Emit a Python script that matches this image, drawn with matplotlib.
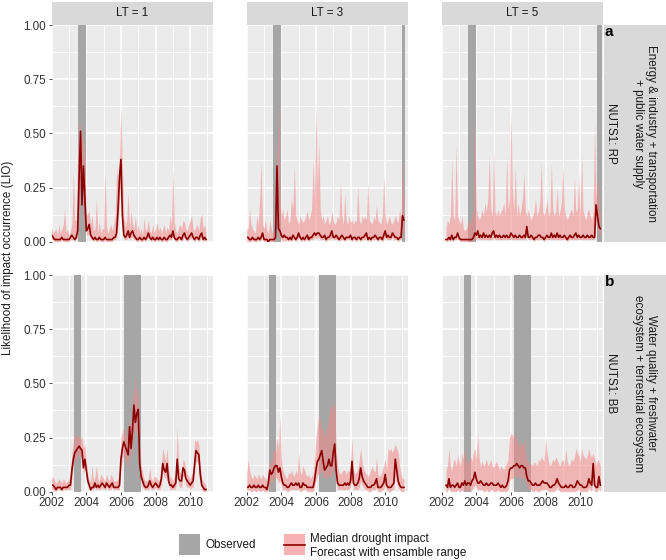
import numpy as np
import matplotlib
matplotlib.use("Agg")
import matplotlib.pyplot as plt
from matplotlib.patches import Rectangle

plt.rcParams['font.family'] = ['Liberation Sans', 'DejaVu Sans']

# ---------------- data (values in percent LIO, monthly) ----------------
lead_times = ["LT = 1", "LT = 3", "LT = 5"]
row_regions = ["NUTS1: RP", "NUTS1: BB"]
row_sectors = ["Energy & industry + transportation\n+ public water supply",
               "Water quality + freshwater\necosystem + terrestrial ecosystem"]
row_letters = ["a", "b"]
year_ticks = [2002, 2004, 2006, 2008, 2010]
lio_ticks = [0.0, 0.25, 0.5, 0.75, 1.0]

# observed drought impact periods (decimal years) per row
obs_RP = [(2003.50, 2003.96), (2011.00, 2011.40)]
obs_BB = [(2003.30, 2003.67), (2006.17, 2007.16)]

# start month (months after Jan 2002) of each forecast series
start_LT1 = 0
start_LT3 = 0
start_LT5 = 3

# ---- Row a: NUTS1 RP ----
med_RP_LT1 = [3,2,1,1,1,1,1,2,1,1, 1,1,1,2,3,2,1, 2,5,30,51,17,35,20,5,6,8,
              3,2,1,2,1,1,2,1,1,1, 2,1,1,1,1,1,2,2,4,15, 30,38,12,3,2,3,5,2,4,5,
              3,2,1,1,2,1,1,2,1,2, 4,2,1,2,1,1,2,1,2,1, 1,2,1,1,2,3,2,5,2,1,
              1,2,2,1,3,4,2,1,2,3, 4,2,1,2,2,1,3,4,1,2,1]
hi_RP_LT1 = [7,4,5,6,3,8,4,6,8,15, 4,6,3,5,8,33,10, 10,40,56,53,45,50,38,12,13,14,
             8,12,5,6,20,4,9,4,6,6, 32,7,4,6,8,5,8,12,35,25, 40,62,34,12,7,10,23,6,14,8,
             6,12,5,8,4,6,3,11,5,6, 10,5,4,8,4,6,9,5,7,4, 6,8,4,7,5,12,8,33,9,5,
             4,7,8,6,10,9,6,5,8,10, 12,6,5,7,8,5,11,13,6,8,4]
lo_RP_LT1 = [1,1,0,0,0,0,0,1,0,0, 0,0,0,1,1,1,0, 1,2,15,40,10,25,10,3,3,4,
             1,1,0,1,0,0,1,0,0,0, 1,0,0,0,0,0,1,1,2,8, 20,30,5,1,1,1,2,1,2,2,
             1,1,0,0,1,0,0,1,0,1, 2,1,0,1,0,0,1,0,1,0, 0,1,0,0,1,1,1,2,1,0,
             0,1,1,0,1,2,1,0,1,1, 2,1,0,1,1,0,1,2,0,1,0]

med_RP_LT3 = [2,2,1,1,2,1,1,1,2,1, 2,4,1,1,1,0,1,1,1,1, 2,35,6,5,3,2,3,2,2,1,
              2,1,3,2,1,2,4,2,1,2, 1,2,3,1,2,2,3,4,3,4, 4,3,2,2,3,1,2,2,3,5,
              2,2,3,2,1,2,3,2,1,2, 2,2,3,1,2,2,1,2,2,1, 2,2,3,4,1,2,1,2,2,3,
              2,1,2,2,1,3,5,2,3,2, 2,4,3,2,2,1,2,2,12,10]
hi_RP_LT3 = [6,6,15,8,6,5,4,12,8,20, 37,8,6,10,5,4,10,6,4,4, 8,40,65,20,12,15,10,12,15,8,
             10,20,15,35,12,10,8,12,10,9, 10,12,14,10,12,15,38,20,63,25, 46,15,10,12,8,10,12,8,9,14,
             10,8,9,12,10,28,12,8,22,10, 8,12,9,10,8,10,9,26,10,8, 12,10,12,10,27,10,9,8,12,10,
             17,10,9,8,12,30,12,8,10,12, 9,8,10,12,10,9,15,10,38,20]
lo_RP_LT3 = [0,0,0,0,1,0,0,0,1,0, 1,2,0,0,0,0,0,0,0,0, 1,10,2,2,1,0,1,0,1,0,
             1,0,1,1,0,1,2,1,0,1, 0,1,1,0,1,1,1,2,1,2, 2,1,1,1,1,0,1,1,1,2,
             1,1,1,1,0,1,1,1,0,1, 1,1,1,0,1,1,0,1,1,0, 1,1,1,2,0,1,0,1,1,1,
             1,0,1,1,0,1,2,1,1,1, 1,2,1,1,1,0,1,1,5,4]

med_RP_LT5 = [1,1,2,1,3,1,2,2,4,2, 1,1,1,1,1,1,1,1,1,2, 4,3,5,2,3,2,4,2,3,2,
              3,2,4,5,2,3,2,3,2,2, 3,2,3,2,2,4,3,2,3,2, 2,3,2,2,3,2,7,2,2,3,
              2,1,2,2,3,3,2,2,1,2, 3,2,2,4,2,3,2,4,2,3, 2,2,3,2,1,2,3,2,2,3,
              4,2,3,2,2,3,2,2,3,2, 2,3,2,2,17,12,7,6]
hi_RP_LT5 = [6,10,8,12,38,12,10,45,12,10, 8,12,6,5,6,8,10,8,12,15, 60,15,12,10,12,15,12,18,14,20,
             40,15,12,42,14,12,15,12,14,15, 18,12,40,15,20,60,25,14,35,12, 18,12,15,20,32,14,12,15,12,10,
             12,14,20,12,14,18,37,14,12,15, 20,12,14,36,15,12,14,25,12,14, 18,35,15,12,10,12,14,15,12,30,
             14,15,30,12,40,14,12,10,14,15, 12,10,14,55,20,30,18,12]
lo_RP_LT5 = [0,0,1,0,1,0,1,1,1,1, 0,0,0,0,0,0,0,0,0,1, 1,1,2,1,1,1,1,1,1,1,
             1,1,1,2,1,1,1,1,1,1, 1,1,1,1,1,1,1,1,1,1, 1,1,1,1,1,1,3,1,1,1,
             1,0,1,1,1,1,1,1,0,1, 1,1,1,1,1,1,1,1,1,1, 1,1,1,1,0,1,1,1,1,1,
             1,1,1,1,1,1,1,1,1,1, 1,1,1,1,10,6,3,2]

# ---- Row b: NUTS1 BB ----
med_BB_LT1 = [3,3,2,1,2,2,2,1,2,2, 2,2,3,3,10, 15,18,19,20,21,20,19,11,15,10,
              5,3,1,2,2,4,2,3,2,3, 4,3,2,4,3,2,3,4,2,2, 2,2,3,15,20,23,21,19,17,30,
              20,28,40,32,36,38,13,7,5, 3,2,2,3,5,3,2,3,4,3, 2,3,6,13,10,9,13,5,3,3,
              2,3,4,15,6,5,5,11,10,6, 5,4,3,4,5,12,19,18,17,8,3,2,1,1]
hi_BB_LT1 = [6,7,5,4,5,6,5,4,6,5, 4,5,6,8,18, 24,27,25,26,25,24,26,20,22,14,
             8,6,4,12,5,7,12,6,5,8, 7,6,5,8,6,5,8,7,5,5, 5,6,10,25,27,30,28,25,26,35,
             30,35,55,45,48,43,22,12,9, 6,5,5,6,11,6,5,7,7,6, 5,6,12,20,17,14,20,10,7,6,
             5,7,8,30,12,9,8,15,14,10, 8,7,6,8,9,24,23,24,22,12,6,5,4,3]
lo_BB_LT1 = [1,1,0,0,1,1,1,0,1,1, 1,1,1,1,6, 12,14,15,17,17,16,15,8,11,7,
             3,1,0,1,1,2,1,1,1,1, 2,1,1,2,1,1,1,2,1,1, 1,1,1,10,15,17,15,13,12,22,
             14,20,30,25,28,30,8,4,2, 1,1,1,1,2,1,1,1,2,1, 1,1,3,9,7,6,9,3,1,1,
             1,1,2,10,3,2,2,7,7,3, 2,2,1,2,2,8,14,14,12,5,1,0,0,0]

med_BB_LT3 = [2,2,3,2,2,3,2,2,3,2, 2,3,2,2,1,4,10,8,9,11, 12,12,9,11,7,4,3,3,2,2,
              3,4,3,3,4,3,4,2,2,4, 3,3,2,2,2,2,2,5,10,14, 15,17,19,14,10,11,12,15,12,12,
              18,22,10,4,3,3,3,3,4,3, 4,3,5,14,4,3,3,4,6,11, 7,5,4,3,2,2,2,3,3,4,
              6,2,2,2,3,4,8,3,2,2, 2,3,4,15,10,5,3,2,2,2]
hi_BB_LT3 = [8,15,10,7,6,8,7,6,8,7, 6,8,7,6,5,9,15,12,18,20, 18,25,20,35,15,10,8,7,6,9,
             8,10,8,7,10,8,18,9,8,12, 10,8,7,8,6,7,8,15,25,30, 35,33,28,30,25,28,30,35,40,38,
             40,42,20,12,9,8,9,10,10,8, 10,9,12,25,10,8,9,10,15,20, 14,10,9,8,7,8,10,12,10,9,
             16,8,7,8,10,12,15,10,20,19, 20,18,20,22,20,18,12,8,6,6]
lo_BB_LT3 = [0,1,1,0,0,1,0,0,1,0, 0,1,0,0,0,1,5,4,5,6, 7,6,4,5,3,1,1,1,0,0,
             1,1,1,1,1,1,1,0,0,1, 1,1,0,0,0,0,0,2,5,8, 8,9,10,8,6,6,7,8,7,7,
             10,12,5,1,1,1,1,1,1,1, 1,1,2,7,1,1,1,1,2,5, 3,2,1,1,0,0,0,1,1,1,
             2,0,0,0,1,1,3,1,0,0, 0,1,1,7,4,2,1,0,0,0]

med_BB_LT5 = [3,2,6,2,3,3,2,3,4,2, 2,4,3,5,3,4,4,3,5,6, 9,6,4,4,5,4,3,3,4,3,
              3,4,4,3,3,3,4,3,2,3, 2,2,3,5,10,11,11,12,12,13, 12,11,12,12,11,11,7,5,5,4,
              3,3,4,3,3,3,4,5,4,4, 4,3,2,2,3,3,4,6,4,3, 2,2,2,3,2,2,3,3,2,2,
              3,5,4,3,3,2,2,2,3,6, 4,3,13,3,2,2,7,3]
hi_BB_LT5 = [10,12,20,12,10,14,15,12,17,14, 12,18,15,20,14,13,15,16,14,18, 20,15,27,15,12,14,12,13,15,12,
             13,15,12,11,13,14,12,10,12,11, 10,12,13,15,25,27,26,25,27,24, 22,20,23,22,25,18,15,14,12,13,
             12,14,13,12,15,14,16,15,14,25, 18,14,12,13,15,14,16,15,13,12, 14,15,12,20,14,12,13,15,14,16,
             20,18,17,14,20,17,16,15,17,20, 17,16,18,15,12,15,14,12]
lo_BB_LT5 = [0,0,2,0,0,0,0,0,1,0, 0,1,0,1,0,1,1,0,1,2, 3,2,1,1,1,1,0,0,1,0,
             0,1,1,0,0,0,1,0,0,0, 0,0,0,1,5,6,6,7,7,8, 7,6,7,7,6,6,3,1,1,1,
             0,0,1,0,0,0,1,1,1,1, 1,0,0,0,0,0,1,2,1,0, 0,0,0,0,0,0,0,0,0,0,
             0,1,1,0,0,0,0,0,0,2, 1,0,6,0,0,0,2,0]

rows = [
    [(start_LT1, med_RP_LT1, lo_RP_LT1, hi_RP_LT1),
     (start_LT3, med_RP_LT3, lo_RP_LT3, hi_RP_LT3),
     (start_LT5, med_RP_LT5, lo_RP_LT5, hi_RP_LT5)],
    [(start_LT1, med_BB_LT1, lo_BB_LT1, hi_BB_LT1),
     (start_LT3, med_BB_LT3, lo_BB_LT3, hi_BB_LT3),
     (start_LT5, med_BB_LT5, lo_BB_LT5, hi_BB_LT5)],
]
row_obs = [obs_RP, obs_BB]

# ---------------- styling / layout ----------------
W, H = 666, 560
fig = plt.figure(figsize=(W / 100, H / 100), dpi=100)
fig.patch.set_facecolor('white')

PANEL_BG = '#EBEBEB'
STRIP_BG = '#D9D9D9'
OBS_COL = '#A6A6A6'
RIB_COL = '#F48A8A'
MED_COL = '#8B0000'
TXT = '#1A1A1A'
TICK_TXT = '#333333'
FS = 8.4

col_x = [51.7, 246.7, 441.7]
pw = 161.5
row_y = [25.0, 275.0]
ph = 216.7

def fx(x): return x / W
def fy(y): return 1 - y / H

XMIN, XMAX = 2002.0, 2011.33

for r in range(2):
    for c in range(3):
        x0 = col_x[c]; y0 = row_y[r]
        ax = fig.add_axes([fx(x0), fy(y0 + ph), pw / W, ph / H])
        ax.set_facecolor(PANEL_BG)
        for s in ax.spines.values():
            s.set_visible(False)
        ax.set_xlim(XMIN, XMAX)
        ax.set_ylim(0, 1)
        ax.set_xticks(year_ticks)
        ax.set_xticks([2003, 2005, 2007, 2009, 2011], minor=True)
        ax.set_yticks(lio_ticks)
        ax.set_yticks([0.125, 0.375, 0.625, 0.875], minor=True)
        ax.grid(which='major', color='white', lw=1.1)
        ax.grid(which='minor', color='white', lw=0.55)
        ax.set_axisbelow(True)
        ax.tick_params(which='minor', length=0)
        ax.tick_params(which='major', length=2.5, width=0.6, color='#333333',
                       labelsize=FS, labelcolor=TICK_TXT, pad=1.5)
        if c == 0:
            ax.set_yticklabels([f"{v:.2f}" for v in lio_ticks])
        else:
            ax.tick_params(axis='y', length=0, labelleft=False)
        if r == 1:
            ax.set_xticklabels([str(v) for v in year_ticks])
        else:
            ax.tick_params(axis='x', length=0, labelbottom=False)

        start, med, lo, hi = rows[r][c]
        n = len(med)
        t = 2002 + (start + np.arange(n)) / 12.0
        t_end = t[-1] + 1 / 12.0
        for (a, b) in row_obs[r]:
            if a < t_end - 1e-6:
                ax.axvspan(a, min(b, t_end), color=OBS_COL, lw=0, zorder=1)
        ax.fill_between(t, np.array(lo) / 100, np.array(hi) / 100,
                        color=RIB_COL, alpha=0.55, lw=0, zorder=2)
        ax.plot(t, np.array(med) / 100, color=MED_COL, lw=1.2, zorder=3)

        # top strips
        if r == 0:
            sax = fig.add_axes([fx(x0), fy(24.5), pw / W, 22.8 / H])
            sax.set_facecolor(STRIP_BG)
            sax.set_xticks([]); sax.set_yticks([])
            for s in sax.spines.values():
                s.set_visible(False)
            sax.text(0.5, 0.5, lead_times[c], ha='center', va='center',
                     fontsize=FS, color=TXT, transform=sax.transAxes)

    # right strips
    y0 = row_y[r]
    rax = fig.add_axes([fx(603.7), fy(y0 + ph), (W - 603.7) / W, ph / H])
    rax.set_facecolor(STRIP_BG)
    rax.set_xticks([]); rax.set_yticks([])
    for s in rax.spines.values():
        s.set_visible(False)
    yc = fy(y0 + ph / 2)
    fig.text(fx(644.5), yc, row_sectors[r], rotation=-90, ha='center', va='center',
             multialignment='center', fontsize=FS, color=TXT, linespacing=1.15)
    fig.text(fx(611.5), yc, row_regions[r], rotation=-90, ha='center', va='center',
             fontsize=FS, color=TXT)
    fig.text(fx(604.5), fy(y0 + 7.5), row_letters[r], ha='left', va='center',
             fontsize=11, fontweight='bold', color='black')

# y axis title
fig.text(fx(8), fy(258), "Likelihood of impact occurrence (LIO)", rotation=90,
         ha='center', va='center', fontsize=FS, color=TXT)

# legend
fig.patches.append(Rectangle((fx(179), fy(555)), 21 / W, 21 / H, transform=fig.transFigure,
                             facecolor=OBS_COL, edgecolor='none'))
fig.text(fx(205), fy(545), "Observed", ha='left', va='center', fontsize=FS, color=TXT)
fig.patches.append(Rectangle((fx(283.5), fy(555)), 21.5 / W, 21 / H, transform=fig.transFigure,
                             facecolor=RIB_COL, alpha=0.65, edgecolor='none'))
fig.lines.append(plt.Line2D([fx(283.5), fx(305)], [fy(544.5), fy(544.5)],
                            transform=fig.transFigure, color=MED_COL, lw=1.2))
fig.text(fx(310), fy(539), "Median drought impact", ha='left', va='center', fontsize=FS, color=TXT)
fig.text(fx(310), fy(553), "Forecast with ensamble range", ha='left', va='center', fontsize=FS, color=TXT)

fig.savefig("out.png", dpi=100)
